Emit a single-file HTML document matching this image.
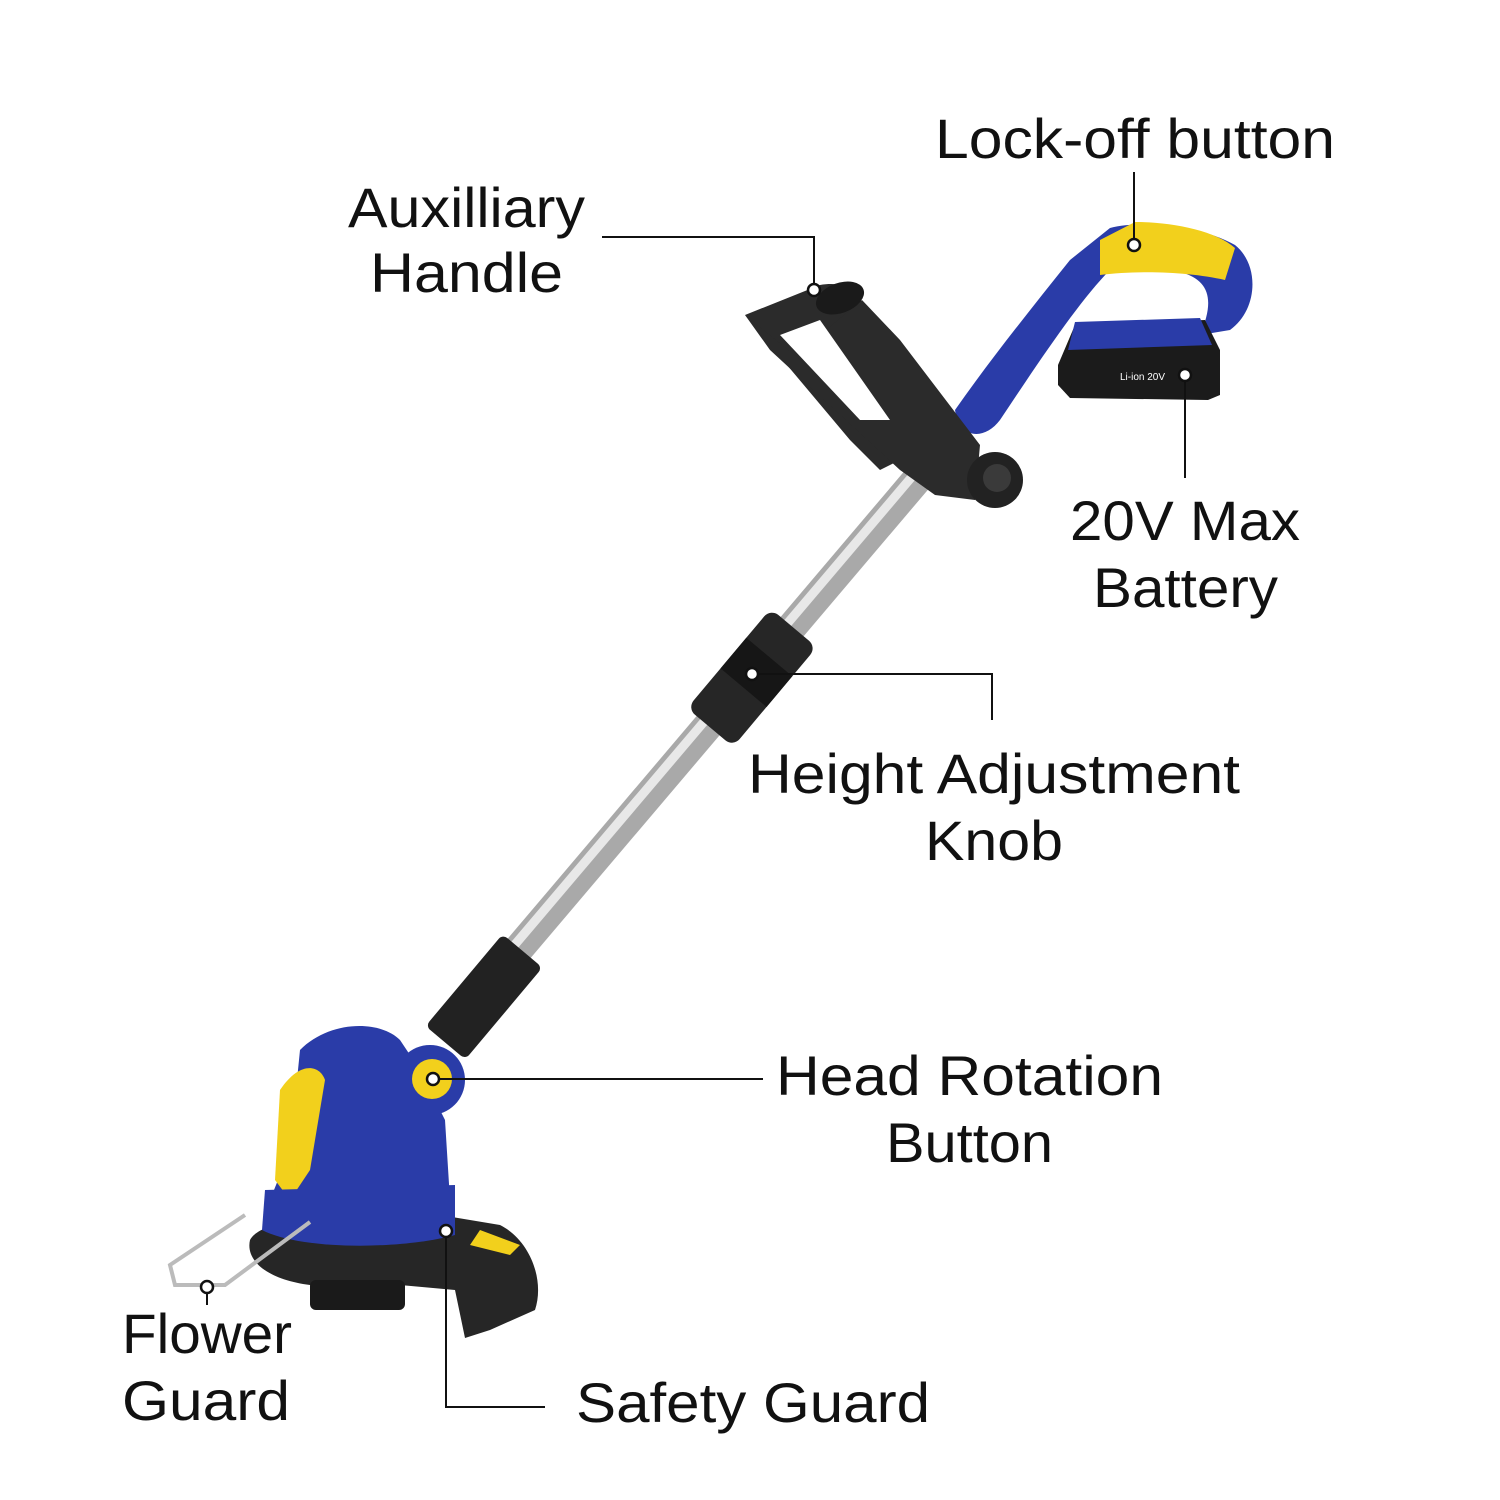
<!DOCTYPE html>
<html><head><meta charset="utf-8"><style>
html,body{margin:0;padding:0;background:#fff;}
svg{display:block;}
text{font-family:"Liberation Sans",sans-serif;font-size:56px;fill:#111;}
</style></head><body>
<svg width="1500" height="1500" viewBox="0 0 1500 1500" xmlns="http://www.w3.org/2000/svg">
<rect width="1500" height="1500" fill="#fff"/>
<defs>
<linearGradient id="sil" x1="0" y1="0" x2="1" y2="0"><stop offset="0" stop-color="#888"/><stop offset="0.45" stop-color="#f2f2f2"/><stop offset="1" stop-color="#999"/></linearGradient>
</defs>

<!-- shaft -->
<line x1="925" y1="470" x2="505" y2="965" stroke="#a9a9a9" stroke-width="30"/>
<line x1="921" y1="466" x2="501" y2="961" stroke="#e8e8e8" stroke-width="9"/>

<!-- blue handle upper -->
<path d="M955,410 C990,360 1030,310 1070,260 L1110,228 C1140,220 1200,225 1235,245 C1260,265 1258,310 1230,330 L1200,335 C1215,300 1210,280 1180,272 L1110,270 C1080,300 1040,360 1000,420 C985,440 960,440 955,410 Z" fill="#2a3ca8"/>
<path d="M1100,240 L1135,222 C1170,222 1215,230 1235,248 L1225,280 C1190,272 1140,270 1100,275 Z" fill="#f2d01c"/>
<!-- battery -->
<path d="M1075,325 L1205,320 L1220,350 L1220,395 L1208,400 L1070,398 L1058,385 L1058,365 Z" fill="#1b1b1b"/>
<path d="M1075,322 L1200,318 L1212,345 L1068,350 Z" fill="#2a3ca8"/>
<text x="1120" y="380" style="font-size:10px;fill:#fff">Li-ion 20V</text>

<!-- auxiliary handle -->
<path d="M745,315 L820,285 C850,280 868,295 860,318 L820,335 L900,430 L910,455 L880,470 L850,440 Z" fill="#2b2b2b"/>
<path d="M745,315 L770,350 L900,470 L935,495 L975,500 L980,445 L900,340 L862,300 L820,335 L850,400 Z" fill="#2b2b2b"/>
<path d="M780,335 L820,320 L890,420 L860,420 Z" fill="#fff"/>
<circle cx="995" cy="480" r="28" fill="#222"/>
<circle cx="997" cy="478" r="14" fill="#3a3a3a"/>
<ellipse cx="840" cy="298" rx="25" ry="15" fill="#1a1a1a" transform="rotate(-20 840 298)"/>

<!-- height knob -->
<g transform="rotate(40 750 680)">
<rect x="720" y="612" width="60" height="130" rx="10" fill="#262626"/>
<rect x="720" y="650" width="60" height="40" fill="#161616"/>
</g>

<!-- lower sleeve -->
<g transform="rotate(40 480 1000)">
<rect x="455" y="935" width="52" height="120" rx="6" fill="#222"/>
</g>

<!-- head motor -->
<path d="M300,1050 C330,1020 380,1020 400,1040 L420,1070 L445,1120 L450,1200 L400,1230 L300,1230 L270,1200 L290,1150 Z" fill="#2a3ca8"/>
<path d="M280,1090 C300,1060 320,1065 325,1080 L310,1170 L290,1200 L275,1180 Z" fill="#f2d01c"/>
<circle cx="430" cy="1080" r="35" fill="#2a3ca8"/>
<circle cx="432" cy="1079" r="20" fill="#f2d01c"/>

<!-- guard -->
<path d="M250,1240 C260,1220 330,1210 440,1215 L500,1225 C530,1240 545,1280 535,1310 L490,1330 L465,1338 L455,1290 L400,1285 L310,1285 C270,1280 245,1262 250,1240 Z" fill="#262626"/>
<path d="M480,1230 L520,1245 L510,1255 L470,1245 Z" fill="#f2d01c"/>
<rect x="310" y="1280" width="95" height="30" rx="6" fill="#1a1a1a"/>
<path d="M265,1190 L455,1185 L455,1235 C400,1250 300,1250 262,1230 Z" fill="#2a3ca8"/>
<!-- flower guard wire -->
<path d="M310,1222 L225,1285 L175,1285 L170,1265 L245,1215" fill="none" stroke="#bbb" stroke-width="4"/>

<!-- callout lines -->
<g stroke="#111" stroke-width="2" fill="none">
<polyline points="1134,172 1134,245"/>
<polyline points="602,237 814,237 814,290"/>
<polyline points="1185,375 1185,478"/>
<polyline points="752,674 992,674 992,720"/>
<polyline points="433,1079 763,1079"/>
<polyline points="207,1287 207,1305"/>
<polyline points="446,1231 446,1407 545,1407"/>
</g>
<g fill="#fff" stroke="#111" stroke-width="2.5">
<circle cx="1134" cy="245" r="6"/>
<circle cx="814" cy="290" r="6"/>
<circle cx="1185" cy="375" r="6"/>
<circle cx="752" cy="674" r="6"/>
<circle cx="433" cy="1079" r="6"/>
<circle cx="207" cy="1287" r="6"/>
<circle cx="446" cy="1231" r="6"/>
</g>

<!-- labels -->
<text x="935" y="158" textLength="400" lengthAdjust="spacingAndGlyphs">Lock-off button</text>
<text x="348" y="227" textLength="237" lengthAdjust="spacingAndGlyphs">Auxilliary</text>
<text x="370" y="292" textLength="193" lengthAdjust="spacingAndGlyphs">Handle</text>
<text x="1070" y="540" textLength="230" lengthAdjust="spacingAndGlyphs">20V Max</text>
<text x="1093" y="607" textLength="185" lengthAdjust="spacingAndGlyphs">Battery</text>
<text x="748" y="793" textLength="492" lengthAdjust="spacingAndGlyphs">Height Adjustment</text>
<text x="925" y="860" textLength="138" lengthAdjust="spacingAndGlyphs">Knob</text>
<text x="776" y="1095" textLength="387" lengthAdjust="spacingAndGlyphs">Head Rotation</text>
<text x="886" y="1162" textLength="167" lengthAdjust="spacingAndGlyphs">Button</text>
<text x="122" y="1353" textLength="170" lengthAdjust="spacingAndGlyphs">Flower</text>
<text x="122" y="1420" textLength="168" lengthAdjust="spacingAndGlyphs">Guard</text>
<text x="576" y="1422" textLength="354" lengthAdjust="spacingAndGlyphs">Safety Guard</text>
</svg>
</body></html>
